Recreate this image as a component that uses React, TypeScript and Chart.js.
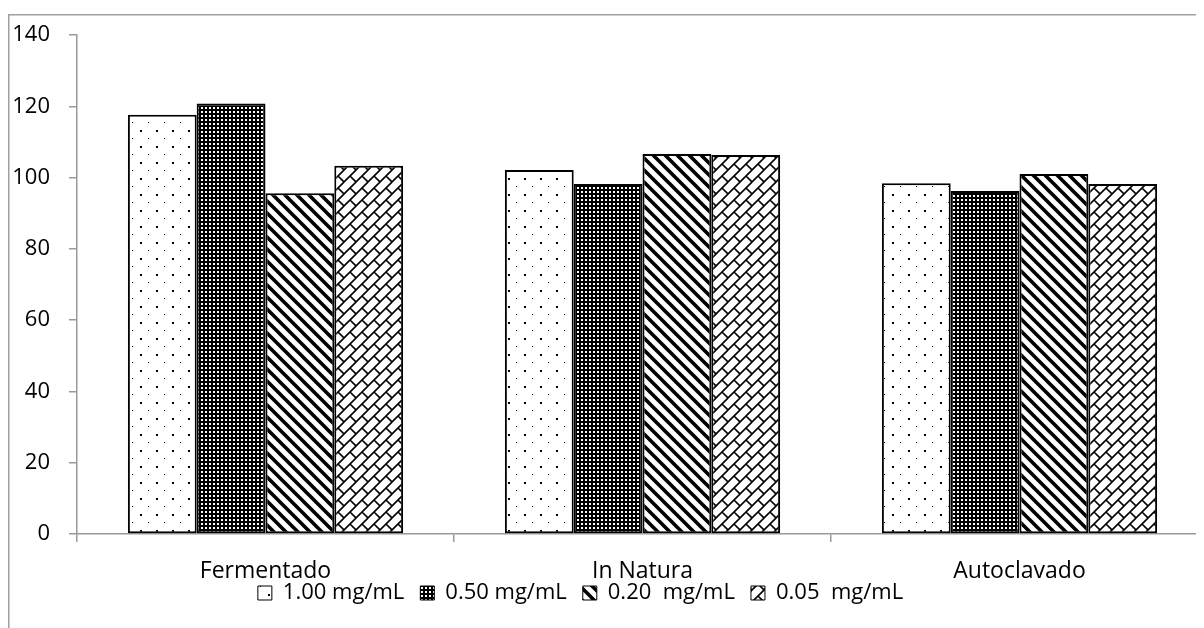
import React, { useEffect, useRef } from "react";
import { Chart, registerables } from "chart.js";

Chart.register(...registerables);

const categories = ["Fermentado", "In Natura", "Autoclavado"];
const seriesLabels = ["1.00 mg/mL", "0.50 mg/mL", "0.20  mg/mL", "0.05  mg/mL"];
const s100 = [117.6, 102.1, 98.4];
const s050 = [120.8, 98.2, 96.2];
const s020 = [95.6, 106.6, 101.0];
const s005 = [103.3, 106.3, 98.2];
const yTicks = [0, 20, 40, 60, 80, 100, 120, 140];

const W = 1260;
const H = 640;

function makeTile(size: number, draw: (c: CanvasRenderingContext2D) => void) {
  const t = document.createElement("canvas");
  t.width = size;
  t.height = size;
  const c = t.getContext("2d")!;
  c.fillStyle = "#ffffff";
  c.fillRect(0, 0, size, size);
  draw(c);
  return t;
}

function makePatterns(ctx: CanvasRenderingContext2D) {
  const dots = makeTile(16, (c) => {
    c.fillStyle = "#000";
    c.fillRect(4, 4, 2, 2);
    c.fillRect(12, 12, 1, 1);
  });
  const dense = makeTile(4, (c) => {
    c.fillStyle = "#000";
    c.fillRect(0, 0, 4, 4);
    c.fillStyle = "#fff";
    c.fillRect(1, 1, 2, 2);
  });
  const stripes = makeTile(12, (c) => {
    c.strokeStyle = "#000";
    c.lineWidth = 3.6;
    c.beginPath();
    c.moveTo(-3, -3);
    c.lineTo(15, 15);
    c.moveTo(-3, 9);
    c.lineTo(3, 15);
    c.moveTo(9, -3);
    c.lineTo(15, 3);
    c.stroke();
  });
  const brick = makeTile(12, (c) => {
    c.strokeStyle = "#000";
    c.lineWidth = 1.6;
    c.beginPath();
    c.moveTo(-3, 15);
    c.lineTo(15, -3);
    c.moveTo(-3, 3);
    c.lineTo(3, -3);
    c.moveTo(9, 15);
    c.lineTo(15, 9);
    c.moveTo(6, 6);
    c.lineTo(12, 12);
    c.stroke();
  });
  return [dots, dense, stripes, brick].map((t) => ctx.createPattern(t, "repeat")!);
}

const borderPlugin = {
  id: "outerBorder",
  beforeDraw(chart: any) {
    const c = chart.ctx;
    c.save();
    c.strokeStyle = "#a0a0a0";
    c.lineWidth = 1.5;
    c.beginPath();
    c.moveTo(0.75, chart.height);
    c.lineTo(0.75, 0.75);
    c.lineTo(chart.width, 0.75);
    c.stroke();
    c.restore();
  },
};

// place the legend row where the reference has it
const legendPlacePlugin = {
  id: "legendPlace",
  afterLayout(chart: any) {
    const lg = chart.legend;
    if (!lg) return;
    lg.right -= 55;
    lg.top -= 18;
    lg.bottom -= 18;
  },
};

export default function App() {
  const ref = useRef<HTMLCanvasElement>(null);

  useEffect(() => {
    const canvas = ref.current!;
    const ctx = canvas.getContext("2d")!;
    const pats = makePatterns(ctx);
    const values = [s100, s050, s020, s005];

    const chart = new Chart(canvas, {
      type: "bar",
      data: {
        labels: categories,
        datasets: values.map((v, i) => ({
          label: seriesLabels[i],
          data: v,
          backgroundColor: pats[i],
          borderColor: "#000000",
          borderWidth: 2,
          borderSkipped: false,
          categoryPercentage: 0.73,
          barPercentage: 1.0,
        })),
      },
      options: {
        responsive: false,
        animation: false,
        devicePixelRatio: 1,
        layout: { padding: { left: 0, right: 60, top: 21, bottom: 22 } },
        font: { family: "'Open Sans'", size: 22 },
        plugins: {
          tooltip: { enabled: false },
          legend: {
            position: "bottom",
            labels: {
              color: "#000",
              font: { family: "'Open Sans'", size: 22 },
              boxWidth: 14,
              boxHeight: 14,
              padding: 16,
              generateLabels: (ch: any) => {
                const items = Chart.defaults.plugins.legend.labels.generateLabels(ch);
                return items.map((it: any) => ({ ...it, lineWidth: 1 }));
              },
            },
          },
        },
        scales: {
          x: {
            grid: {
              offset: true,
              drawOnChartArea: false,
              drawTicks: true,
              tickLength: 8,
              color: "#9a9a9a",
              lineWidth: 1.5,
            },
            border: { color: "#9a9a9a", width: 1.5 },
            ticks: {
              color: "#000",
              font: { family: "'Open Sans'", size: 23 },
              padding: 16,
              maxRotation: 0,
            },
            afterFit: (s: any) => {
              s.height = 50;
              s.paddingLeft = 0;
              s.paddingRight = 0;
            },
          },
          y: {
            min: 0,
            max: 140,
            afterBuildTicks: (s: any) => {
              s.ticks = yTicks.map((v) => ({ value: v }));
            },
            grid: {
              drawOnChartArea: false,
              drawTicks: true,
              tickLength: 8,
              color: "#9a9a9a",
              lineWidth: 1.5,
            },
            border: { color: "#9a9a9a", width: 1.5 },
            ticks: {
              color: "#000",
              font: { family: "'Open Sans'", size: 22 },
              padding: 19,
            },
            afterFit: (s: any) => {
              s.width = 69;
              s.paddingTop = 0;
              s.paddingBottom = 0;
            },
          },
        },
      },
      plugins: [borderPlugin, legendPlacePlugin],
    });
    return () => chart.destroy();
  }, []);

  return (
    <div style={{ width: 1196, height: 620, overflow: "hidden", position: "relative" }}>
      <canvas
        ref={ref}
        width={W}
        height={H}
        style={{ position: "absolute", left: 0, top: 6, width: W, height: H }}
      />
    </div>
  );
}
